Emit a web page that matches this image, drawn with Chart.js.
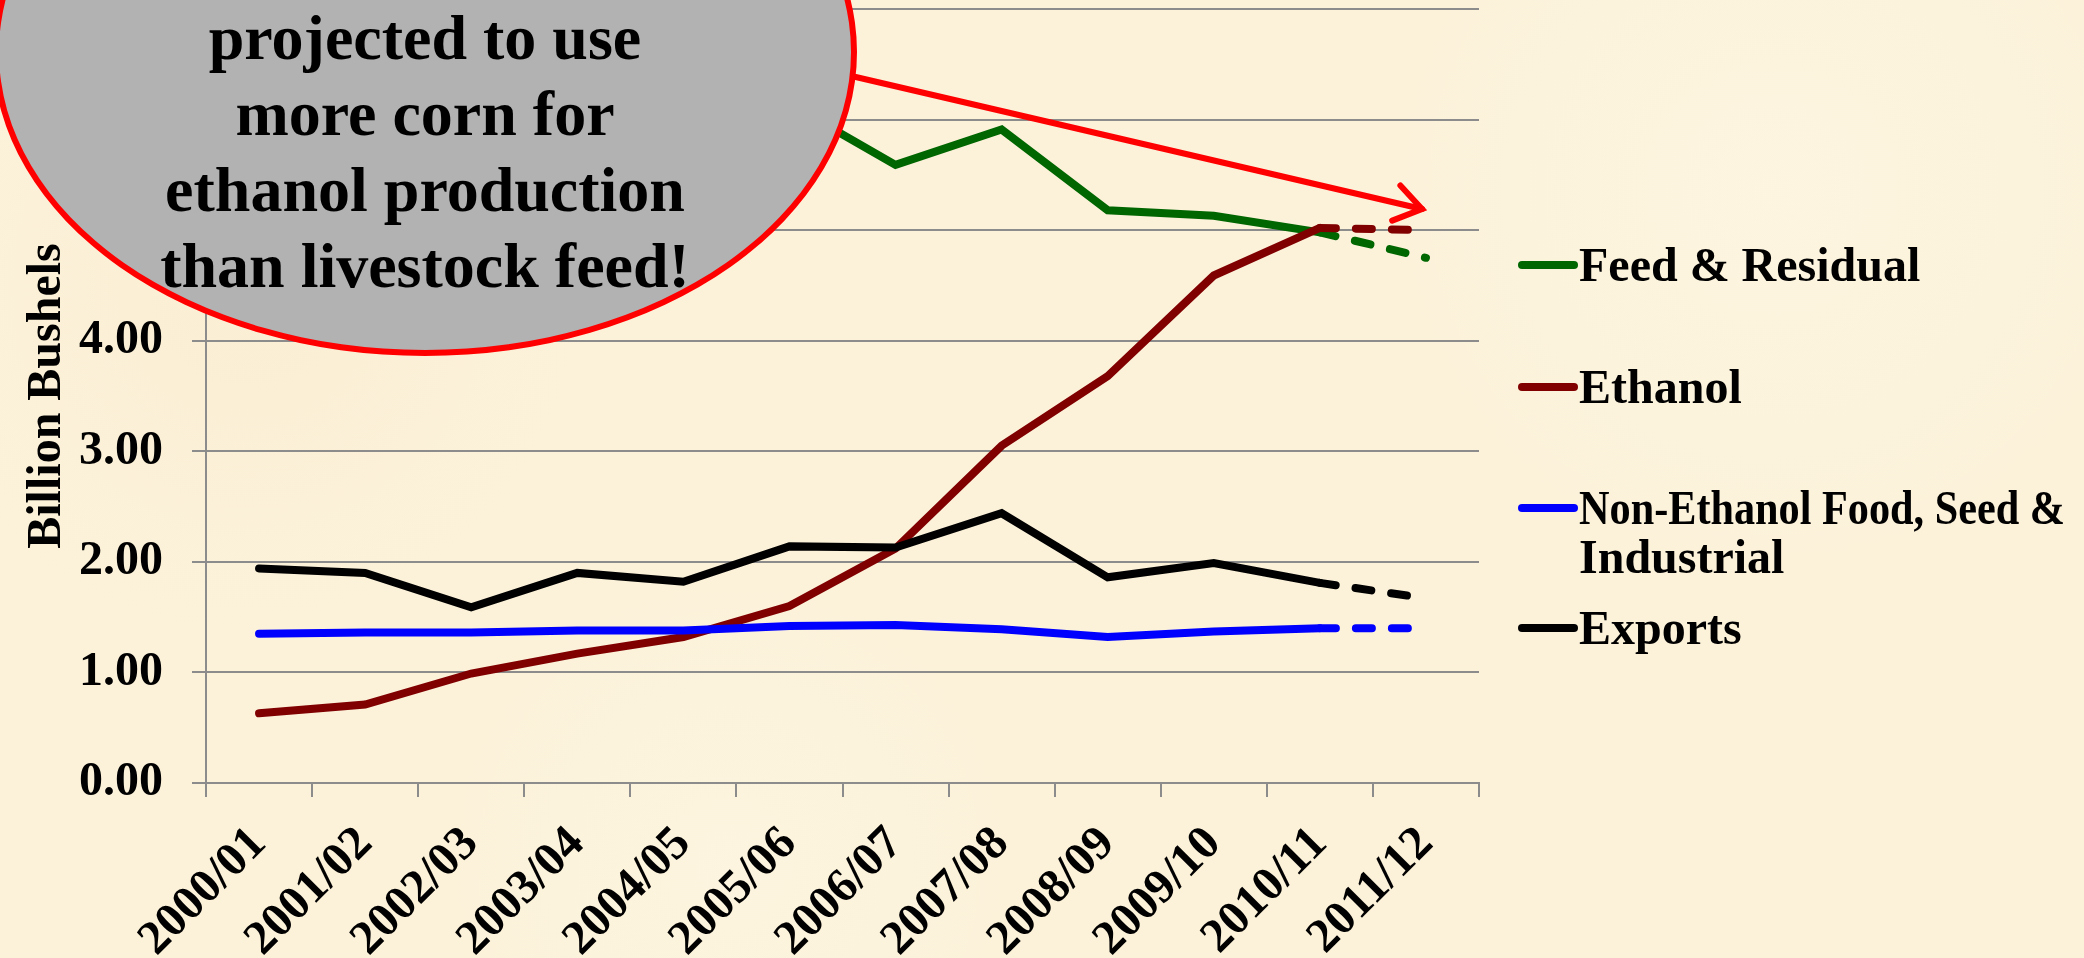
<!DOCTYPE html>
<html>
<head>
<meta charset="utf-8">
<script src="https://cdn.jsdelivr.net/npm/chart.js@4.4.1/dist/chart.umd.min.js"></script>
<style>
  html, body { margin: 0; padding: 0; }
  body { width: 2084px; height: 958px; overflow: hidden; }
  #wrap {
    position: relative; width: 2084px; height: 958px; overflow: hidden;
    background:
      radial-gradient(circle at 12% 30%, rgba(245,230,195,0.25), transparent 18%),
      radial-gradient(circle at 85% 20%, rgba(255,250,235,0.35), transparent 20%),
      radial-gradient(circle at 35% 90%, rgba(255,250,235,0.30), transparent 18%),
      #fcf2da;
  }
  #chart { position: absolute; left: 0; top: 0; }
  #bubble {
    position: absolute; left: -7px; top: -252px; width: 864px; height: 608px;
    box-sizing: border-box; border: 6px solid #ff0000; border-radius: 50%;
    background: #b2b2b2;
  }
  #bubble-text {
    position: absolute; left: 0; top: 0; width: 850px; text-align: center;
    font: bold 64px/76px "Liberation Serif", "Times New Roman", serif; color: #000;
  }
</style>
</head>
<body>
<div id="wrap">
  <canvas id="chart" width="2084" height="958"></canvas>
  <div id="bubble"></div>
  <div id="bubble-text">projected to use<br>more corn for<br>ethanol production<br>than livestock feed!</div>
</div>
<script>
// Corn use by marketing year, billion bushels (2011/12 = projection)
const seasons = ['2000/01', '2001/02', '2002/03', '2003/04', '2004/05', '2005/06',
                 '2006/07', '2007/08', '2008/09', '2009/10', '2010/11', '2011/12'];
const feedResidual = [5.84, 5.86, 5.56, 5.80, 6.16, 6.14, 5.59, 5.91, 5.18, 5.13, 4.98, 4.75];
const ethanol      = [0.63, 0.71, 0.99, 1.17, 1.32, 1.60, 2.12, 3.05, 3.68, 4.59, 5.02, 5.00];
const nonEthanolFSI = [1.35, 1.36, 1.36, 1.38, 1.38, 1.42, 1.43, 1.39, 1.32, 1.37, 1.40, 1.40];
const exportsUse   = [1.94, 1.90, 1.59, 1.90, 1.82, 2.14, 2.13, 2.44, 1.86, 1.99, 1.81, 1.67];
const projFrom = 10; // segment from 2010/11 onward is dashed

const serif = '"Liberation Serif", "Times New Roman", serif';
const tickFont = { family: serif, weight: 'bold', size: 48 };

function series(label, data, color, order) {
    return {
        label: label, data: data, order: order,
        borderColor: color, backgroundColor: color,
        borderWidth: 8, pointRadius: 0, tension: 0, borderCapStyle: 'round',
        segment: { borderDash: ctx => ctx.p0DataIndex >= projFrom ? [16, 20] : undefined }
    };
}

//wrap legend text to a max width
function wrapText(ctx, text, maxW) {
    const words = text.split(' ');
    const lines = [];
    let cur = '';
    words.forEach(w => {
        const test = cur ? cur + ' ' + w : w;
        if (ctx.measureText(test).width > maxW && cur) { lines.push(cur); cur = w; }
        else cur = test;
    });
    if (cur) lines.push(cur);
    return lines;
}

const legendRows = [265, 387, 508, 628];
const sideLegend = {
    id: 'sideLegend',
    afterDraw(chart) {
        const ctx = chart.ctx;
        ctx.save();
        ctx.font = 'bold 48px ' + serif;
        ctx.fillStyle = '#000';
        ctx.textBaseline = 'alphabetic';
        chart.data.datasets.forEach((ds, i) => {
            const y = legendRows[i];
            ctx.strokeStyle = ds.borderColor;
            ctx.lineWidth = 8;
            ctx.lineCap = 'round';
            ctx.beginPath(); ctx.moveTo(1522, y); ctx.lineTo(1574, y); ctx.stroke();
            //long entry is squeezed to fit, as in the original
            wrapText(ctx, ds.label, 560).forEach((line, j) => ctx.fillText(line, 1579, y + 16 + j * 49, 486));
        });
        ctx.restore();
    }
};

//red call-out arrow
const calloutArrow = {
    id: 'calloutArrow',
    afterDatasetsDraw(chart) {
        const ctx = chart.ctx;
        const x0 = 830, y0 = 71, x1 = 1422, y1 = 209;
        const a = Math.atan2(y1 - y0, x1 - x0);
        ctx.save();
        ctx.strokeStyle = '#ff0000';
        ctx.lineWidth = 6;
        ctx.lineCap = 'round';
        ctx.beginPath(); ctx.moveTo(x0, y0); ctx.lineTo(x1, y1); ctx.stroke();
        ctx.beginPath();
        ctx.moveTo(x1 - 32 * Math.cos(a - 0.6), y1 - 32 * Math.sin(a - 0.6));
        ctx.lineTo(x1, y1);
        ctx.lineTo(x1 - 32 * Math.cos(a + 0.6), y1 - 32 * Math.sin(a + 0.6));
        ctx.stroke();
        ctx.restore();
    }
};

new Chart(document.getElementById('chart').getContext('2d'), {
    type: 'line',
    data: {
        labels: seasons,
        datasets: [
            series('Feed & Residual', feedResidual, '#006600', 4),
            series('Ethanol', ethanol, '#800000', 3),
            series('Non-Ethanol Food, Seed & Industrial', nonEthanolFSI, '#0000ff', 2),
            series('Exports', exportsUse, '#000000', 1)
        ]
    },
    options: {
        responsive: false,
        animation: false,
        devicePixelRatio: 1,
        layout: { padding: { left: 0, top: 9, right: 605, bottom: 0 } },
        plugins: { legend: { display: false }, tooltip: { enabled: false } },
        scales: {
            x: {
                offset: true,
                grid: { offset: true, drawOnChartArea: false, drawTicks: true, tickLength: 14, color: '#8c8c8c', lineWidth: 2 },
                border: { color: '#8c8c8c', width: 2 },
                ticks: { minRotation: 45, maxRotation: 45, autoSkip: false, padding: 19, color: '#000', font: tickFont },
                afterFit: s => { s.height = 175; s.paddingLeft = 0; s.paddingRight = 0; }
            },
            y: {
                min: 0, max: 7,
                grid: { color: '#8c8c8c', lineWidth: 2, tickLength: 14 },
                border: { color: '#8c8c8c', width: 2 },
                ticks: {
                    stepSize: 1, padding: 29, font: tickFont, callback: v => v.toFixed(2),
                    //labels above 4.00 sit under the call-out bubble in the original
                    color: c => c.tick.value > 4 ? 'rgba(0,0,0,0)' : '#000'
                },
                title: { display: true, text: 'Billion Bushels', color: '#000', font: tickFont, padding: { top: 19, bottom: 0 } },
                afterFit: s => { s.width = 206; s.paddingTop = 0; s.paddingBottom = 0; }
            }
        }
    },
    plugins: [sideLegend, calloutArrow]
});
</script>
</body>
</html>
